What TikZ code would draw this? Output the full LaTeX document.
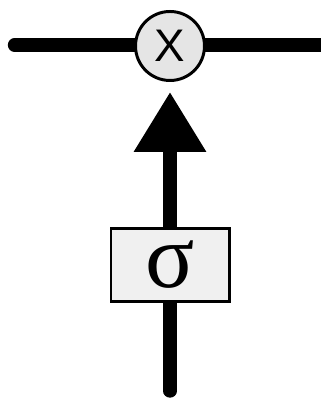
\documentclass[tikz,border=0pt]{standalone}
\usepackage{fontspec}
\setmainfont{Liberation Serif}
\newfontfamily\gatefont{Liberation Sans}
\usetikzlibrary{arrows.meta, positioning, backgrounds}

\begin{document}
\begin{tikzpicture}[
  wire/.style={line width=7.6pt, line cap=round},
  gate/.style={circle, draw, line width=1.7pt, fill=gray!20, minimum size=1.38cm,
    inner sep=0pt, font=\gatefont\fontsize{26}{26}\selectfont},
  layer/.style={rectangle, draw, line width=1.7pt, fill=gray!12, minimum width=2.36cm,
    minimum height=1.46cm, inner sep=0pt, font=\fontsize{52}{52}\selectfont}
]
  \useasboundingbox (0,0) rectangle (6.4,7.98);
  % pointwise multiplication on the cell line
  \node[gate] (mul) at (3.40,7.06) {X};
  \coordinate (lin) at (0.29,7.08);
  \coordinate (lout) at (6.7,7.08);
  % sigmoid layer and its input
  \node[layer] (sig) at (3.40,2.68) {σ};
  \coordinate (xin) at (3.40,0.16);
  \begin{scope}[on background layer]
    \draw[wire] (lin) -- (lin -| mul) -- (lout);
    \draw[wire] (xin) -- (sig);
  \end{scope}
  % gate signal up into the multiplication
  \draw[wire, line cap=butt, -{Triangle[length=1.2cm, width=1.38cm]}, shorten >=0.2cm]
    (sig.north) -- (mul.south);
\end{tikzpicture}
\end{document}
